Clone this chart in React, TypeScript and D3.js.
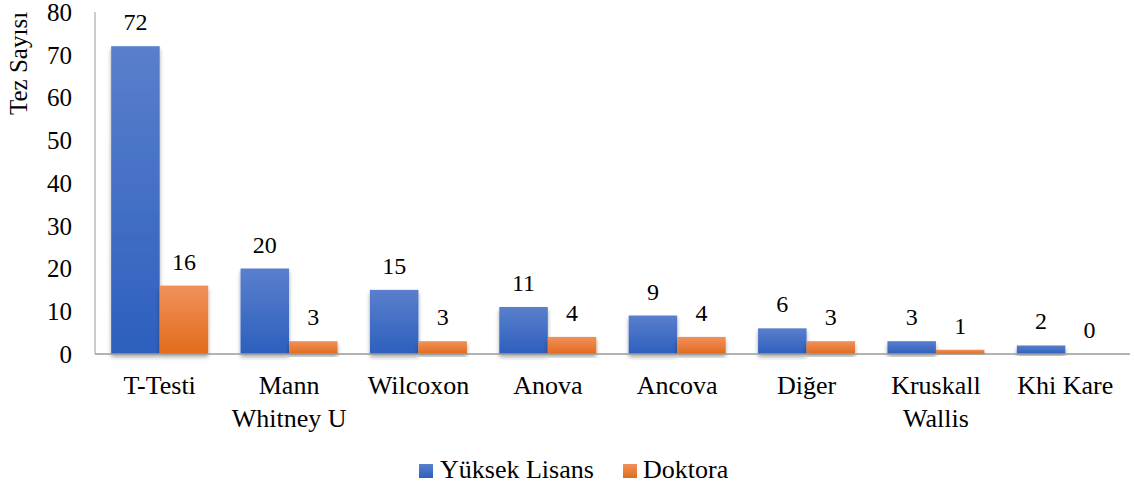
import React from "react";
import * as d3 from "d3";

const categories = ["T-Testi", "Mann Whitney U", "Wilcoxon", "Anova", "Ancova", "Diğer", "Kruskall Wallis", "Khi Kare"];
const categoryLines = [["T-Testi"], ["Mann", "Whitney U"], ["Wilcoxon"], ["Anova"], ["Ancova"], ["Diğer"], ["Kruskall", "Wallis"], ["Khi Kare"]];
const yuksekLisans = [72, 20, 15, 11, 9, 6, 3, 2];
const doktora = [16, 3, 3, 4, 4, 3, 1, 0];
const seriesNames = ["Yüksek Lisans", "Doktora"];
const yTicks = [0, 10, 20, 30, 40, 50, 60, 70, 80];

const W = 1134, H = 488;
const left = 95, right = 1130, top = 12, bottom = 354;
const font = "Liberation Serif";
const st = (size: number) => ({ fontFamily: font, fontSize: `${size}px` });

export default function App() {
  const x0 = d3.scaleBand<string>().domain(categories).range([left, right]).paddingInner(0.25).paddingOuter(0.125);
  const x1 = d3.scaleBand<string>().domain(seriesNames).range([0, x0.bandwidth()]);
  const y = d3.scaleLinear().domain([0, 80]).range([bottom, top]);
  const series = [yuksekLisans, doktora];
  const grads = ["gBlue", "gOrange"];
  return (
    <svg width={W} height={H} style={{ position: "absolute", left: 0, top: 0, background: "#fff" }}>
      <defs>
        <linearGradient id="gBlue" x1="0" y1="0" x2="0" y2="1">
          <stop offset="0" stopColor="#5a7fcc" />
          <stop offset="1" stopColor="#2d5fbe" />
        </linearGradient>
        <linearGradient id="gOrange" x1="0" y1="0" x2="0" y2="1">
          <stop offset="0" stopColor="#f0915a" />
          <stop offset="1" stopColor="#e26b1c" />
        </linearGradient>
        <filter id="sh" x="-20%" y="-10%" width="140%" height="130%">
          <feGaussianBlur in="SourceAlpha" stdDeviation="2" />
          <feOffset dx="0" dy="3" result="b" />
          <feComponentTransfer><feFuncA type="linear" slope="0.35" /></feComponentTransfer>
          <feMerge><feMergeNode /><feMergeNode in="SourceGraphic" /></feMerge>
        </filter>
      </defs>
      <line x1={left} x2={left} y1={top} y2={bottom} stroke="#9a9a9a" strokeWidth={1} />
      {yTicks.map(t => (
        <text key={t} x={72} y={y(t)} dy="0.35em" textAnchor="end" fill="#000" style={st(25)}>{t}</text>
      ))}
      <text x={27} y={115} transform="rotate(-90, 27, 115)" fill="#000" style={st(25)}>Tez Sayısı</text>
      {categories.map((c, i) => (
        <g key={c}>
          {series.map((s, j) => {
            const bx = (x0(c) as number) + (x1(seriesNames[j]) as number);
            const bw = x1.bandwidth();
            return (
              <g key={j}>
                {s[i] > 0 && (
                  <rect x={bx} y={y(s[i])} width={bw} height={bottom - y(s[i])} fill={`url(#${grads[j]})`} filter="url(#sh)" />
                )}
                <text x={bx + bw / 2} y={y(s[i]) - 16} textAnchor="middle" fill="#000" style={st(24)}>{s[i]}</text>
              </g>
            );
          })}
          {categoryLines[i].map((ln, k) => (
            <text key={k} x={(x0(c) as number) + x0.bandwidth() / 2} y={394 + k * 33} textAnchor="middle" fill="#000" style={st(26)}>{ln}</text>
          ))}
        </g>
      ))}
      <line x1={left} x2={right} y1={bottom} y2={bottom} stroke="#9a9a9a" strokeWidth={1.5} />
      <rect x={419} y={464} width={14} height={14} fill="url(#gBlue)" />
      <text x={440} y={478} fill="#000" style={st(26)}>{seriesNames[0]}</text>
      <rect x={623} y={464} width={14} height={14} fill="url(#gOrange)" />
      <text x={643} y={478} fill="#000" style={st(26)}>{seriesNames[1]}</text>
    </svg>
  );
}
